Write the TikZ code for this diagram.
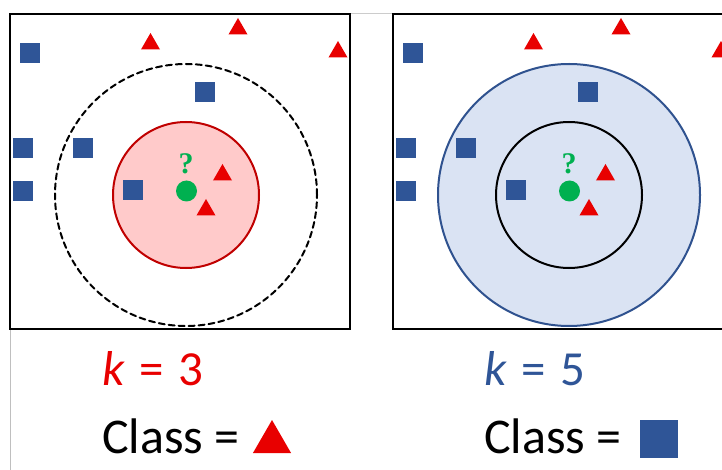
\documentclass[tikz,border=0pt]{standalone}
\usepackage{fontspec}
\setmainfont{Carlito}
\newfontfamily\qfont{Liberation Serif}
\usetikzlibrary{shapes.geometric}

\begin{document}
\begin{tikzpicture}[x=1pt, y=-1pt, line cap=round,
    sq/.style={fill=myblue, minimum size=20pt, inner sep=0pt},
    tri/.style={regular polygon, regular polygon sides=3, fill=myred, minimum size=22pt, inner sep=0pt},
    dot/.style={circle, fill=mygreen, minimum size=21pt, inner sep=0pt},
    query/.style={text=mygreen, inner sep=0pt, font=\qfont\bfseries\fontsize{30}{32}\selectfont},
    klabel/.style={anchor=base west, inner sep=0pt, font=\fontsize{49}{52}\selectfont},
    classlabel/.style={anchor=base west, inner sep=0pt, font=\fontsize{50}{54}\selectfont}]

    % --- Definitions ---
    % Colors to match the image
    \definecolor{myred}{RGB}{232, 0, 0}
    \definecolor{myblue}{RGB}{47, 85, 151}
    \definecolor{mygreen}{RGB}{0, 176, 80}
    \definecolor{mypink}{RGB}{255, 202, 202}
    \definecolor{mydarkred}{RGB}{192, 0, 0}
    \definecolor{mylightblue}{RGB}{218, 227, 243}
    \definecolor{mycircleblue}{RGB}{47, 82, 143}

    \def\shiftR{383} % offset of the right panel
    \def\gap{\hspace{0.3em}} % spaces in the k labels

    \useasboundingbox (0,0) rectangle (722,470);
    \clip (0,0) rectangle (722,470);

    % --- Page lines ---
    \draw[black!20, line width=0.8pt] (350,13) -- (393,13);
    \draw[black!25, line width=0.8pt] (10,330) -- (10,470);

    % --- Left panel (k = 3) ---
    \coordinate (LC) at (186,195);
    \draw[line width=2.5pt, line cap=rect] (10,14) rectangle (350,329);
    \draw[dashed, dash pattern=on 6pt off 4pt, line width=2pt] (LC) circle (131pt);
    \draw[mydarkred, fill=mypink, line width=2pt] (LC) circle (73pt);

    \node[sq] (lsqA) at (30,53) {};
    \node[sq] (lsqB) at (205,92) {};
    \node[sq] (lsqC) at (22.7,148) {};
    \node[sq] (lsqD) at (83,148) {};
    \node[sq] (lsqE) at (22.7,191) {};
    \node[sq] (lsqF) at (133,190) {};

    \node[tri] (ltriA) at (150.5,44) {};
    \node[tri] (ltriB) at (238,29) {};
    \node[tri] (ltriC) at (338,52) {};
    \node[tri] (ltriD) at (222.5,175) {};
    \node[tri] (ltriE) at (206,210) {};

    \node[dot] (lpoint) at (186.5,191) {};
    \node[query] (lquery) at (186,164) {?};

    % --- Right panel (k = 5) ---
    \coordinate (RC) at (186+\shiftR,195);
    \draw[line width=2.5pt, line cap=rect] (393,14) -- (760,14) (393,14) -- (393,329) -- (760,329);
    \draw[mycircleblue, fill=mylightblue, line width=2pt] (RC) circle (131pt);
    \draw[black, line width=2pt] (RC) circle (73pt);

    \node[sq] (rsqA) at (30+\shiftR,53) {};
    \node[sq] (rsqB) at (205+\shiftR,92) {};
    \node[sq] (rsqC) at (22.7+\shiftR,148) {};
    \node[sq] (rsqD) at (83+\shiftR,148) {};
    \node[sq] (rsqE) at (22.7+\shiftR,191) {};
    \node[sq] (rsqF) at (133+\shiftR,190) {};

    \node[tri] (rtriA) at (150.5+\shiftR,44) {};
    \node[tri] (rtriB) at (238+\shiftR,29) {};
    \node[tri] (rtriC) at (338+\shiftR,52) {};
    \node[tri] (rtriD) at (222.5+\shiftR,175) {};
    \node[tri] (rtriE) at (206+\shiftR,210) {};

    \node[dot] (rpoint) at (186.5+\shiftR,191) {};
    \node[query] (rquery) at (186+\shiftR,164) {?};

    % --- Labels ---
    \node[klabel, text=myred] (kthree) at (102,385) {\textit{k}\gap=\gap3};
    \node[classlabel] (classthree) at (102,453) {Class =};
    \node[tri, minimum size=44pt] (classtri) at (272,442) {};

    \node[klabel, text=myblue] (kfive) at (484,385) {\textit{k}\gap=\gap5};
    \node[classlabel] (classfive) at (484,453) {Class =};
    \node[sq, minimum size=38pt] (classsq) at (659,439) {};

\end{tikzpicture}
\end{document}
